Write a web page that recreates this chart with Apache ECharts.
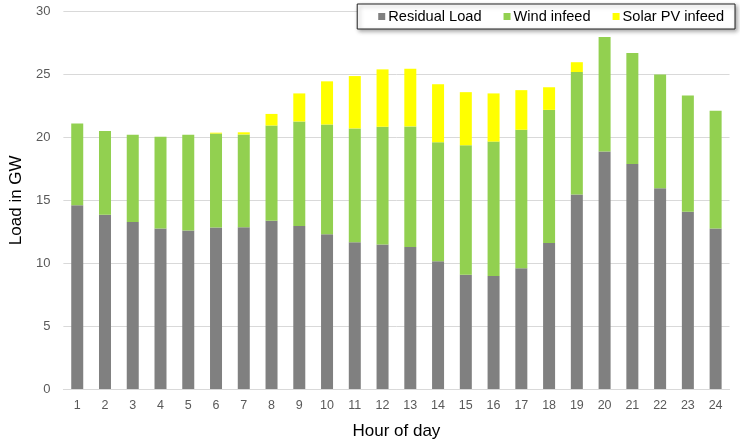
<!DOCTYPE html>
<html><head><meta charset="utf-8">
<script src="https://cdn.jsdelivr.net/npm/echarts@6/dist/echarts.min.js"></script>
<style>html,body{margin:0;padding:0;background:#fff}#c{width:740px;height:445px}</style>
</head><body><div id="c"></div>
<script>
const hours = ['1','2','3','4','5','6','7','8','9','10','11','12','13','14','15','16','17','18','19','20','21','22','23','24'];
const residualLoad = [14.6,13.85,13.27,12.75,12.6,12.83,12.85,13.38,12.96,12.3,11.67,11.49,11.28,10.16,9.08,8.98,9.6,11.6,15.45,18.88,17.88,15.95,14.08,12.75];
const windInfeed = [6.5,6.65,6.93,7.3,7.6,7.47,7.38,7.56,8.3,8.72,9.04,9.35,9.59,9.45,10.29,10.68,11.0,10.58,9.74,9.09,8.83,9.05,9.25,9.37];
const solarInfeed = [0,0,0,0,0,0.07,0.17,0.92,2.23,3.43,4.16,4.56,4.58,4.61,4.22,3.83,3.15,1.8,0.78,0,0,0,0,0];
const yTicks = [0,5,10,15,20,25,30];

const font = 'Liberation Sans, Arial, sans-serif';
const chart = echarts.init(document.getElementById('c'), null, {renderer:'canvas'});
chart.setOption({
  animation:false,
  backgroundColor:'#fff',
  grid:{left:54.5,right:10.5,top:11.5,bottom:51.7,containLabel:false},
  legend:{
    right:5, top:4,
    padding:[5,11,5,21],
    itemWidth:7, itemHeight:7, itemGap:22,
    icon:'rect',
    backgroundColor:'#fff',
    borderColor:'#222', borderWidth:1,
    shadowColor:'rgba(0,0,0,0.35)', shadowBlur:4, shadowOffsetX:2, shadowOffsetY:2,
    textStyle:{fontFamily:font,fontSize:14.6,color:'#000',padding:[0,0,0,-2]},
    data:['Residual Load','Wind infeed','Solar PV infeed']
  },
  xAxis:{
    type:'category', data:hours,
    name:'Hour of day', nameLocation:'middle', nameGap:34,
    nameTextStyle:{fontFamily:font,fontSize:17,color:'#000'},
    axisLine:{lineStyle:{color:'#d9d9d9',width:1}},
    axisTick:{show:false},
    axisLabel:{fontFamily:font,fontSize:12.5,color:'#595959',margin:10}
  },
  yAxis:{
    type:'value', min:yTicks[0], max:yTicks[yTicks.length-1], interval:5,
    name:'Load in GW', nameLocation:'middle', nameGap:35,
    nameTextStyle:{fontFamily:font,fontSize:17,color:'#000'},
    axisLine:{show:false}, axisTick:{show:false},
    axisLabel:{fontFamily:font,fontSize:13,color:'#595959',margin:13},
    splitLine:{lineStyle:{color:'#d9d9d9',width:1}}
  },
  series:[
    {name:'Residual Load',type:'bar',stack:'a',data:residualLoad,barWidth:12,itemStyle:{color:'#808080'}},
    {name:'Wind infeed',type:'bar',stack:'a',data:windInfeed,barWidth:12,itemStyle:{color:'#92d050'}},
    {name:'Solar PV infeed',type:'bar',stack:'a',data:solarInfeed,barWidth:12,itemStyle:{color:'#ffff00'}}
  ]
});
</script></body></html>
